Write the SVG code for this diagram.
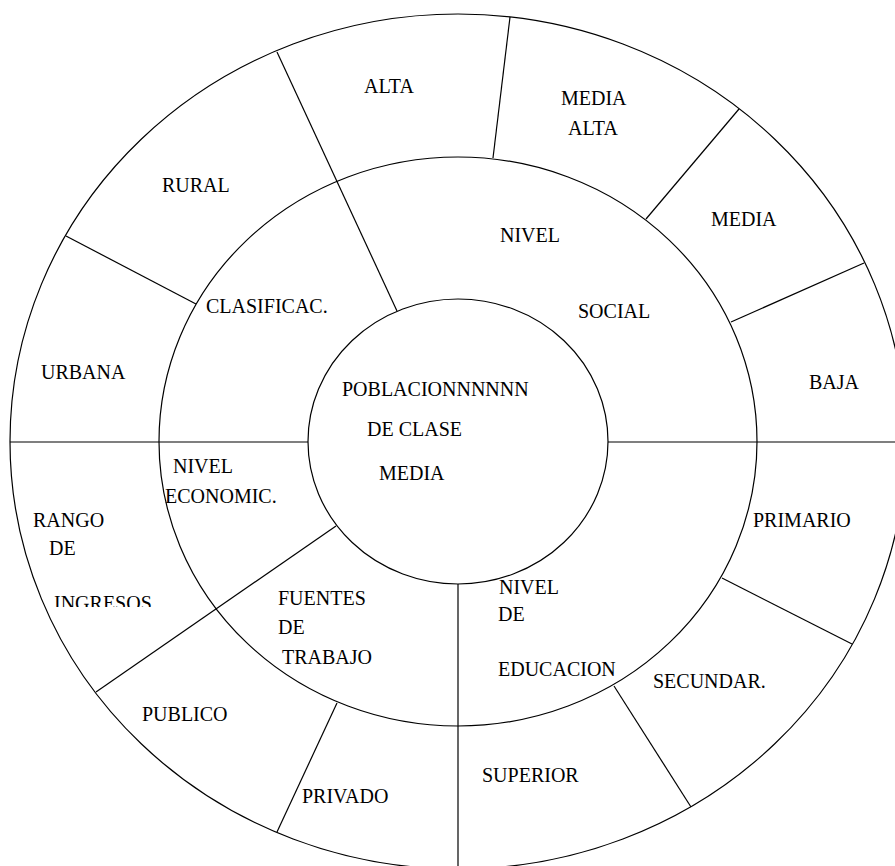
<svg xmlns="http://www.w3.org/2000/svg" width="895" height="866" viewBox="0 0 895 866">
<style>
.ring{fill:#fff;stroke:#000;stroke-width:1.2}
.div{stroke:#000;stroke-width:1.2;fill:none}
.t{font-family:"Liberation Serif","Times New Roman",serif;font-size:20px;fill:#000}
</style>
<defs>
<clipPath id="clipIngresos"><rect x="0" y="580" width="300" height="27"/></clipPath>
</defs>
<rect width="895" height="866" fill="#fff"/>
<g id="rings">
<ellipse class="ring" cx="458" cy="441.5" rx="448" ry="427.5"/>
<ellipse class="ring" cx="458" cy="441.5" rx="299" ry="284.5"/>
<ellipse class="ring" cx="458" cy="441.5" rx="150" ry="142.5"/>
</g>
<g id="connectors">
<line class="div" x1="10" y1="442" x2="308" y2="442"/>
<line class="div" x1="608" y1="442" x2="906" y2="442"/>
<line class="div" x1="458" y1="584" x2="458" y2="870"/>
<line class="div" x1="277" y1="52" x2="397" y2="311"/>
<line class="div" x1="66" y1="236" x2="196" y2="304"/>
<line class="div" x1="510" y1="17" x2="493" y2="158"/>
<line class="div" x1="739" y1="109" x2="646" y2="219"/>
<line class="div" x1="864" y1="263" x2="731" y2="322"/>
<line class="div" x1="96" y1="692" x2="336" y2="526"/>
<line class="div" x1="337" y1="703" x2="277" y2="832"/>
<line class="div" x1="722" y1="578" x2="852" y2="644"/>
<line class="div" x1="614" y1="686" x2="691" y2="807"/>
</g>
<g class="t">
<g id="center"><text x="342" y="396">POBLACIONNNNNN</text><text x="367" y="436">DE CLASE</text><text x="379" y="480">MEDIA</text></g>
<g id="clasificac"><text x="206" y="313">CLASIFICAC.</text></g>
<g id="nivel-social"><text x="500" y="242">NIVEL</text><text x="578" y="318">SOCIAL</text></g>
<g id="nivel-economic"><text x="173" y="473">NIVEL</text><text x="165" y="503">ECONOMIC.</text></g>
<g id="fuentes"><text x="278" y="605">FUENTES</text><text x="278" y="634">DE</text><text x="282" y="664">TRABAJO</text></g>
<g id="nivel-educacion"><text x="499" y="594">NIVEL</text><text x="498" y="621">DE</text><text x="498" y="676">EDUCACION</text></g>
<g id="alta"><text x="364" y="93">ALTA</text></g>
<g id="media-alta"><text x="561" y="105">MEDIA</text><text x="568" y="135">ALTA</text></g>
<g id="media"><text x="711" y="226">MEDIA</text></g>
<g id="baja"><text x="809" y="389">BAJA</text></g>
<g id="rural"><text x="162" y="192">RURAL</text></g>
<g id="urbana"><text x="41" y="379">URBANA</text></g>
<g id="rango"><text x="33" y="527">RANGO</text><text x="49" y="555">DE</text><text x="54" y="610" clip-path="url(#clipIngresos)">INGRESOS</text></g>
<g id="publico"><text x="142" y="721">PUBLICO</text></g>
<g id="privado"><text x="302" y="803">PRIVADO</text></g>
<g id="primario"><text x="753" y="527">PRIMARIO</text></g>
<g id="secundar"><text x="653" y="688">SECUNDAR.</text></g>
<g id="superior"><text x="482" y="782">SUPERIOR</text></g>
</g>
</svg>
